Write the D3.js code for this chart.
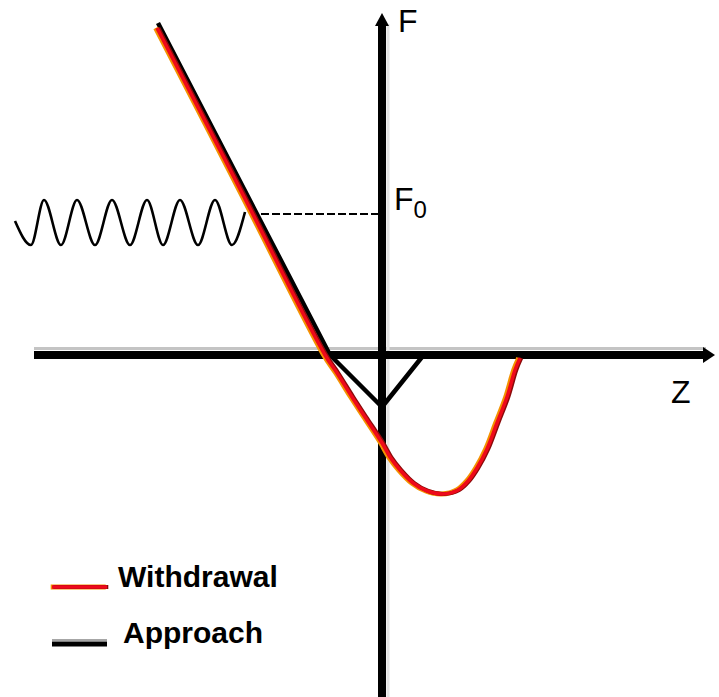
<!DOCTYPE html>
<html><head><meta charset="utf-8">
<script src="https://cdn.jsdelivr.net/npm/d3@7"></script>
<style>html,body{margin:0;padding:0;background:#fff;}svg{display:block;}</style>
</head><body>
<script>
// Data (z, F) in arbitrary units
const withdrawalZ = [-22.5, -14.1, -5.7, -4.5, -3.0, -1.7, 0, 0.8, 1.8, 3.1, 4.5, 6.1, 7.6, 8.6, 9.5, 10.5, 11.5, 12.5, 13.3, 13.8];
const withdrawalF = [32.7, 16.4, 0, -1.8, -4.2, -6.2, -8.8, -10.2, -11.5, -12.8, -13.6, -13.9, -13.5, -12.6, -11.3, -9.4, -6.8, -4.2, -1.5, -0.3];
const approachZ = [-22.4, -5.2, 0, 4.0];
const approachF = [33.2, 0, -5.2, -0.2];
const waveZ = [-36.7, -35.1, -33.8, -32.1, -30.5, -28.7, -27.0, -25.2, -23.5, -21.9, -20.2, -18.4, -16.7, -15.0, -13.7];
const waveF = [13.4, 11.0, 15.5, 11.0, 15.5, 11.0, 15.5, 11.0, 15.5, 11.0, 15.5, 11.0, 15.5, 11.0, 14.3];
const F0 = 14.1;
const seriesLabels = ["Withdrawal", "Approach"];
const axisLabels = {z: "Z", f: "F", f0: "F", f0sub: "0"};

const W = 719, H = 697;
const x = d3.scaleLinear().domain([-38.2, 33.7]).range([0, W]);
const y = d3.scaleLinear().domain([35.5, -34.2]).range([0, H]);

const svg = d3.select("body").append("svg").attr("width", W).attr("height", H);
const line = d3.line().x(d => x(d[0])).y(d => y(d[1]));

// axes
const zMin = -34.8, zMax = 33.2, fMax = 34.1, fMin = -34.2;
svg.append("line").attr("x1", x(zMin)).attr("x2", x(zMax) - 8).attr("y1", y(0) - 6.5).attr("y2", y(0) - 6.5)
  .attr("stroke", "#c4c4c4").attr("stroke-width", 3);
svg.append("line").attr("x1", x(0) + 6).attr("x2", x(0) + 6).attr("y1", y(fMax) + 10).attr("y2", y(fMin))
  .attr("stroke", "#e4e4e4").attr("stroke-width", 3);
svg.append("line").attr("x1", x(zMin)).attr("x2", x(zMax) - 8).attr("y1", y(0)).attr("y2", y(0))
  .attr("stroke", "#000").attr("stroke-width", 8);
svg.append("line").attr("x1", x(0)).attr("x2", x(0)).attr("y1", y(fMax) + 10).attr("y2", y(fMin))
  .attr("stroke", "#000").attr("stroke-width", 8);
// arrow heads
svg.append("path").attr("d", `M${x(0)},${y(fMax) - 1} L${x(0) + 7},${y(fMax) + 12} L${x(0) - 7},${y(fMax) + 12} Z`).attr("fill", "#000");
svg.append("path").attr("d", `M${x(zMax) + 1},${y(0)} L${x(zMax) - 11},${y(0) - 8} L${x(zMax) - 11},${y(0) + 8} Z`).attr("fill", "#000");

// dashed F0 line
svg.append("line").attr("x1", x(-13.2)).attr("x2", x(-0.4)).attr("y1", y(F0)).attr("y2", y(F0))
  .attr("stroke", "#000").attr("stroke-width", 2).attr("stroke-dasharray", "8,3");

// wave
const wave = waveZ.map((z, i) => [z, waveF[i]]);
svg.append("path").attr("d", d3.line().x(d => x(d[0])).y(d => y(d[1])).curve(d3.curveMonotoneX)(wave))
  .attr("fill", "none").attr("stroke", "#000").attr("stroke-width", 2.6);

// approach
const app = approachZ.map((z, i) => [z, approachF[i]]);
svg.append("path").attr("d", line(app)).attr("fill", "none").attr("stroke", "#000")
  .attr("stroke-width", 4.5).attr("stroke-linejoin", "round");

// withdrawal
const wd = withdrawalZ.map((z, i) => [z, withdrawalF[i]]);
const wdLine = d3.line().x(d => x(d[0])).y(d => y(d[1])).curve(d3.curveCatmullRom);
function redStroke(g, dpath) {
  g.append("path").attr("d", dpath).attr("fill", "none").attr("stroke", "#f39200").attr("stroke-width", 5).attr("transform", "translate(-1.3,0)");
  g.append("path").attr("d", dpath).attr("fill", "none").attr("stroke", "#8b0a0a").attr("stroke-width", 4).attr("transform", "translate(1.3,0)");
  g.append("path").attr("d", dpath).attr("fill", "none").attr("stroke", "#ee0a1a").attr("stroke-width", 3.6);
}
redStroke(svg.append("g"), wdLine(wd));

// labels
svg.append("text").attr("x", x(0) + 16).attr("y", 32).attr("font-family", "Liberation Sans, Arial, sans-serif").attr("font-size", 32).text(axisLabels.f);
svg.append("text").attr("x", 671).attr("y", 403).attr("font-family", "Liberation Sans, Arial, sans-serif").attr("font-size", 32).text(axisLabels.z);
const f0t = svg.append("text").attr("x", x(0) + 12).attr("y", 210).attr("font-family", "Liberation Sans, Arial, sans-serif").attr("font-size", 32);
f0t.append("tspan").text(axisLabels.f0);
f0t.append("tspan").attr("font-size", 24).attr("dy", 8).attr("dx", 0).text(axisLabels.f0sub);

// legend
const lg = svg.append("g");
redStroke(lg, `M52,587 L107,587`);
lg.append("line").attr("x1", 52).attr("x2", 107).attr("y1", 644).attr("y2", 644).attr("stroke", "#000").attr("stroke-width", 5);
lg.append("line").attr("x1", 52).attr("x2", 107).attr("y1", 640).attr("y2", 640).attr("stroke", "#888").attr("stroke-width", 1.5);
lg.append("text").attr("x", 118).attr("y", 587).attr("font-family", "Liberation Sans, Arial, sans-serif").attr("font-weight", "bold").attr("font-size", 30).text(seriesLabels[0]);
lg.append("text").attr("x", 123).attr("y", 643).attr("font-family", "Liberation Sans, Arial, sans-serif").attr("font-weight", "bold").attr("font-size", 30).text(seriesLabels[1]);
</script>
</body></html>
